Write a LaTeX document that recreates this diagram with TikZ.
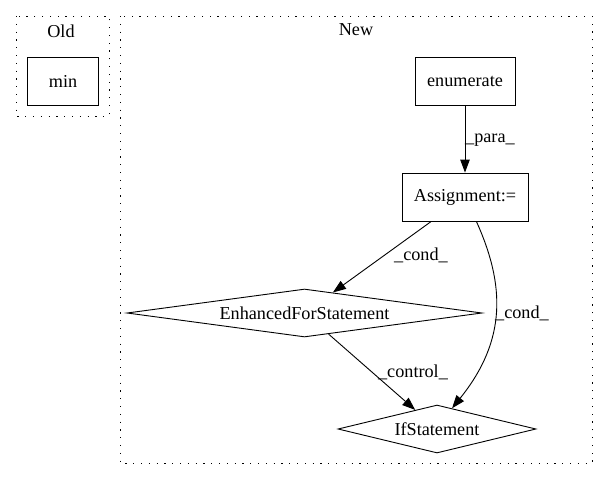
\documentclass[tikz,border=0pt]{standalone}
\usepackage{fontspec}
\setmainfont{Liberation Serif}
\usetikzlibrary{arrows.meta, shapes.geometric}

\begin{document}
\begin{tikzpicture}[
    x=1pt, y=-1pt, % pixel-like units, y going down
    >={Triangle[length=13pt, width=9.5pt]}, % filled arrow tips
    font=\fontsize{18.2}{21}\selectfont,
    cluster/.style={draw, line width=0.9pt, dash pattern=on 1.2pt off 6.6pt}, % dotted cluster frame
    box/.style={draw, line width=0.9pt, rectangle, inner sep=0pt, minimum height=48pt}, % plain node
    decision/.style={draw, line width=0.9pt, diamond, aspect=7, inner sep=0pt, minimum height=48pt}, % diamond node
    flow/.style={->, line width=0.9pt}, % edge style
    edge label/.style={inner sep=0pt} % label next to an edge
  ]

  % --- Canvas ---
  \useasboundingbox (0,0) rectangle (608,480);

  % --- Clusters ---
  \draw[cluster] (16,16) rectangle (109,116);
  \node at (61,31) {Old};
  \draw[cluster] (120,16) rectangle (592,463);
  \node at (356,30) {New};

  % --- Nodes ---
  \node[box, minimum width=71pt] (min) at (63,81) {min};
  \node[box, minimum width=100pt] (enum) at (465,81) {enumerate};
  \node[box, minimum width=126pt] (assign) at (465,197) {Assignment:=};
  \node[decision, minimum width=355pt] (efs) at (304.5,313) {EnhancedForStatement};
  \node[decision, minimum width=198pt] (ifst) at (437,429) {IfStatement};

  % --- Edges ---
  \draw[flow] (enum) -- (assign);
  \node[edge label, anchor=west] at (465,140) {\_para\_};

  \draw[flow] (assign) -- (efs);
  \node[edge label] at (421,255) {\_cond\_};

  \draw[flow] (assign.-65) .. controls (505,285) and (507,340) .. (ifst.54);
  \node[edge label] at (522,313) {\_cond\_};

  \draw[flow] (efs) -- (ifst);
  \node[edge label] at (413,372) {\_control\_};

\end{tikzpicture}
\end{document}
